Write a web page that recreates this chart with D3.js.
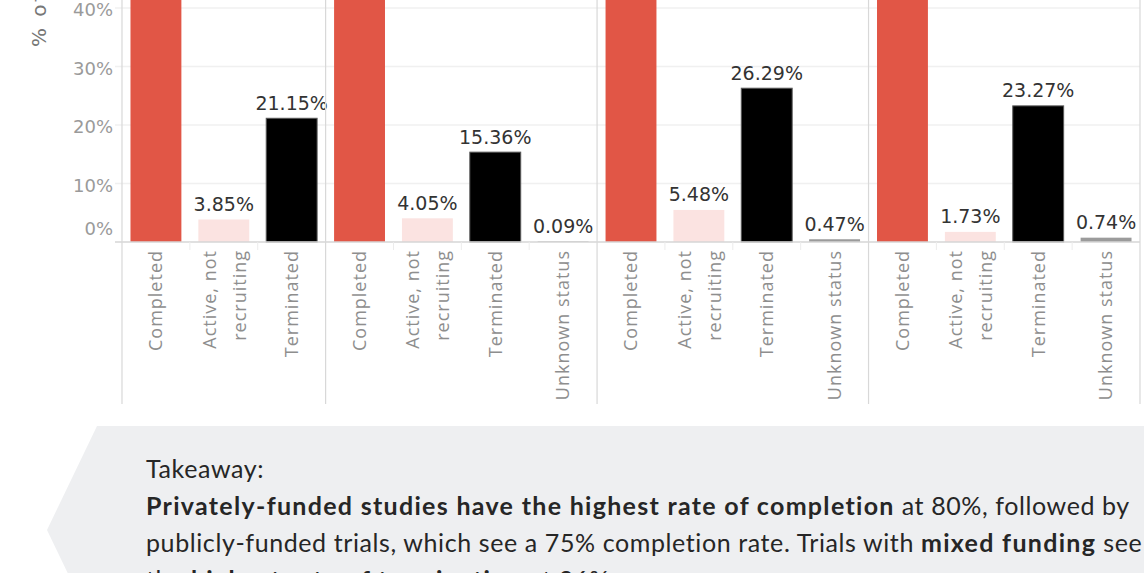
<!DOCTYPE html>
<html>
<head>
<meta charset="utf-8">
<script src="https://cdn.jsdelivr.net/npm/d3@7"></script>
<style>
  html, body { margin: 0; padding: 0; background: #fff; }
  svg { display: block; }
</style>
</head>
<body>
<svg id="chart" width="1144" height="573"></svg>
<script>
// Trial status share (%) by funding group
const fundingGroups = ["Public", "Private", "Mixed", "Other"];
const statuses = ["Completed", "Active, not recruiting", "Terminated", "Unknown status"];
const completedPct  = [75.00, 80.50, 67.76, 74.26];
const activePct     = [3.85, 4.05, 5.48, 1.73];
const terminatedPct = [21.15, 15.36, 26.29, 23.27];
const unknownPct    = [null, 0.09, 0.47, 0.74];
const yTicks = [0, 10, 20, 30, 40];
const axisTitle = "% of Trials";

const statusColors = {
  "Completed": "#e15646",
  "Active, not recruiting": "#fbe3e1",
  "Terminated": "#000000",
  "Unknown status": "#9b9b9b"
};

// Flatten into one row per visible bar
const seriesByStatus = [completedPct, activePct, terminatedPct, unknownPct];
const rows = [];
fundingGroups.forEach((g, gi) => {
  statuses.forEach((s, si) => {
    const v = seriesByStatus[si][gi];
    if (v !== null) rows.push({ group: g, status: s, value: v, key: g + "|" + s });
  });
});

const svg = d3.select("#chart");
const plotLeft = 122, plotRight = 1140, baseY = 242;

const x = d3.scaleBand()
  .domain(rows.map(d => d.key))
  .range([plotLeft, plotRight])
  .paddingInner(0.25)
  .paddingOuter(0.125);

const y = d3.scaleLinear().domain([0, 40]).range([baseY, 8]);

// Horizontal gridlines
svg.append("g")
  .selectAll("line")
  .data(yTicks.filter(t => t > 0))
  .join("line")
  .attr("x1", 115).attr("x2", plotRight)
  .attr("y1", d => y(d)).attr("y2", d => y(d))
  .attr("stroke", "#f0f0f0").attr("stroke-width", 1.5);

// Bars
svg.append("g")
  .selectAll("rect")
  .data(rows)
  .join("rect")
  .attr("x", d => x(d.key))
  .attr("width", x.bandwidth())
  .attr("y", d => y(d.value))
  .attr("height", d => baseY - y(d.value))
  .attr("fill", d => statusColors[d.status])
  .attr("stroke", d => d.status === "Terminated" ? "#5a5a5a" : "none")
  .attr("stroke-width", 1);

// Value labels (Completed labels sit above the visible area)
svg.append("g")
  .selectAll("text")
  .data(rows.filter(d => d.status !== "Completed"))
  .join("text")
  .attr("x", d => x(d.key) + x.bandwidth() / 2)
  .attr("y", d => y(d.value) - 8.5)
  .attr("text-anchor", "middle")
  .attr("font-family", "DejaVu Sans, sans-serif")
  .attr("font-size", 19)
  .attr("fill", "#333")
  .text(d => d.value.toFixed(2) + "%");

// Baseline
svg.append("line")
  .attr("x1", 115).attr("x2", plotRight)
  .attr("y1", baseY).attr("y2", baseY)
  .attr("stroke", "#d6d6d6").attr("stroke-width", 1.5);

// Short dividers between category headers
const keys = x.domain();
const dividers = [];
keys.forEach((k, i) => {
  if (i > 0 && keys[i - 1].split("|")[0] === k.split("|")[0]) dividers.push(k);
});
svg.append("g")
  .selectAll("line")
  .data(dividers)
  .join("line")
  .attr("x1", d => x(d) - x.step() * 0.125).attr("x2", d => x(d) - x.step() * 0.125)
  .attr("y1", baseY).attr("y2", baseY + 8)
  .attr("stroke", "#ececec").attr("stroke-width", 1);

// Panel borders
const panelEdges = [plotLeft];
fundingGroups.forEach(g => {
  const last = rows.filter(r => r.group === g).slice(-1)[0];
  panelEdges.push(x(last.key) + x.bandwidth() + x.step() * 0.125);
});
svg.append("g")
  .selectAll("line")
  .data(panelEdges)
  .join("line")
  .attr("x1", d => d).attr("x2", d => d)
  .attr("y1", 0).attr("y2", 404)
  .attr("stroke", "#d8d8d8").attr("stroke-width", 1.2);

// Y axis tick labels
const yAxis = d3.axisLeft(y).tickValues(yTicks).tickSize(0).tickPadding(0)
  .tickFormat(d => d + "%");
const ya = svg.append("g").attr("transform", "translate(113,0)").call(yAxis);
ya.select(".domain").remove();
ya.selectAll(".tick text")
  .attr("font-family", "DejaVu Sans, sans-serif")
  .attr("font-size", 18)
  .attr("fill", "#9a9a9a")
  .attr("x", 0)
  .attr("dy", "0.35em")
  .attr("y", d => d === 0 ? -13.5 : 1.5);

// Y axis title
svg.append("text")
  .attr("transform", "translate(46,47) rotate(-90)")
  .attr("text-anchor", "start")
  .attr("font-family", "DejaVu Sans, sans-serif")
  .attr("font-size", 20)
  .attr("letter-spacing", 2.5)
  .attr("fill", "#777")
  .text(axisTitle);

// Category header labels (rotated)
const labelLines = {
  "Completed": ["Completed"],
  "Active, not recruiting": ["Active, not", "recruiting"],
  "Terminated": ["Terminated"],
  "Unknown status": ["Unknown status"]
};
const heads = svg.append("g")
  .selectAll("g")
  .data(rows)
  .join("g")
  .attr("transform", d => `translate(${x(d.key) + x.bandwidth() / 2},250) rotate(-90)`);
heads.each(function (d) {
  const lines = labelLines[d.status];
  const offs = lines.length === 1 ? [0] : [-14.5, 15.5];
  lines.forEach((t, i) => {
    d3.select(this).append("text")
      .attr("x", 0)
      .attr("y", offs[i])
      .attr("dy", "0.35em")
      .attr("text-anchor", "end")
      .attr("font-family", "Open Sans, sans-serif")
      .attr("font-size", 18)
      .attr("letter-spacing", 1.0)
      .attr("fill", "#8e8e8e")
      .text(t);
  });
});

// Takeaway panel
const box = svg.append("g");
box.append("path")
  .attr("d", d3.line()([[97, 426], [1160, 426], [1160, 634], [97, 634], [47, 530]]) + "Z")
  .attr("fill", "#eeeff1");

const para = [
  [{ t: "Takeaway:", b: false }],
  [{ t: "Privately-funded studies have the highest rate of completion", b: true },
   { t: " at 80%, followed by", b: false }],
  [{ t: "publicly-funded trials, which see a 75% completion rate. Trials with ", b: false },
   { t: "mixed funding", b: true }, { t: " see", b: false }],
  [{ t: "the ", b: false }, { t: "highest rate of termination", b: true }, { t: " at 26%.", b: false }]
];
const baselines = [478, 515, 552, 589];
para.forEach((parts, i) => {
  const txt = box.append("text")
    .attr("x", 146).attr("y", baselines[i])
    .attr("font-family", "Lato, sans-serif")
    .attr("font-size", 25)
    .attr("fill", "#262626")
    .attr("xml:space", "preserve");
  parts.forEach(p => {
    txt.append("tspan")
      .attr("font-weight", p.b ? 700 : 400)
      .attr("letter-spacing", p.b ? 1.3 : 0.6)
      .text(p.t);
  });
});
</script>
</body>
</html>
